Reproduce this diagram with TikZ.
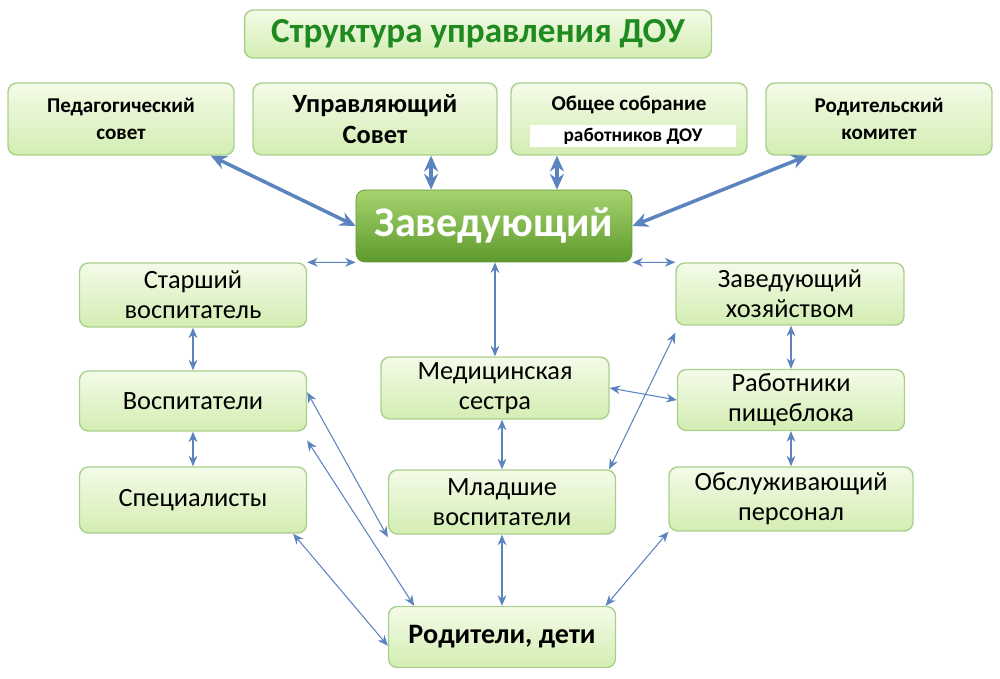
\documentclass[tikz,border=0pt]{standalone}
\usepackage{fontspec}
\setmainfont{Carlito}
\usetikzlibrary{arrows.meta,positioning}
\definecolor{boxline}{HTML}{A9CF8C}
\definecolor{boxtop}{HTML}{F4FBE8}
\definecolor{boxbot}{HTML}{D3EDB2}
\definecolor{headtop}{HTML}{A6D36E}
\definecolor{headbot}{HTML}{5E9A2E}
\definecolor{arrowblue}{HTML}{5B84BE}
\definecolor{titlegreen}{HTML}{1F8A1F}
\tikzset{
  box/.style={draw=boxline, line width=0.8pt, rounded corners=5pt, top color=boxtop, bottom color=boxbot,
    align=center, inner sep=0pt, font=\fontsize{15}{17}\selectfont},
  topbox/.style={box, font=\fontsize{12}{15}\selectfont\bfseries},
  link/.style={{Stealth[length=6pt,width=5pt]}-{Stealth[length=6pt,width=5pt]}, draw=arrowblue, line width=0.6pt},
  biglink/.style={{Stealth[length=9pt,width=8pt]}-{Stealth[length=9pt,width=8pt]}, draw=arrowblue, line width=2pt}
}
\newcommand{\bx}[7]{\node[#1, minimum width=#4cm, minimum height=#5cm] (#2) at (#3) {#7};}
\begin{document}
\begin{tikzpicture}[x=0.02cm,y=-0.02cm]
\useasboundingbox (0,0) rectangle (1000,679);
% title and council row
\node[box, minimum width=9.34cm, minimum height=0.96cm, font=\fontsize{20}{22}\selectfont\bfseries\color{titlegreen}] (title) at (478,34) {Структура управления ДОУ};
\node[topbox, minimum width=4.52cm, minimum height=1.44cm] (ped) at (121,119) {Педагогический\\совет};
\node[topbox, minimum width=4.88cm, minimum height=1.44cm, font=\fontsize{15}{18}\selectfont\bfseries] (upr) at (375,119) {Управляющий\\Совет};
\node[topbox, minimum width=4.72cm, minimum height=1.44cm] (obs) at (629,119) {};
\node[font=\fontsize{12}{14}\selectfont\bfseries] at (629,105) {Общее собрание};
\node[fill=white, minimum width=4.14cm, minimum height=0.44cm, inner sep=0pt, font=\fontsize{11}{13}\selectfont\bfseries] (obs2) at (633,136) {работников ДОУ};
\node[topbox, minimum width=4.52cm, minimum height=1.44cm] (rod) at (879,119) {Родительский\\комитет};
% head
\node[draw=headbot, rounded corners=5pt, top color=headtop, bottom color=headbot, text=white,
  font=\fontsize{24}{28}\selectfont\bfseries, minimum width=5.52cm, minimum height=1.44cm] (head) at (494,226) {Заведующий};
% staff
\node[box, minimum width=4.54cm, minimum height=1.28cm] (star) at (193,295) {Старший\\воспитатель};
\node[box, minimum width=4.56cm, minimum height=1.24cm] (hoz) at (790,294) {Заведующий\\хозяйством};
\node[box, minimum width=4.54cm, minimum height=1.2cm] (vos) at (193,401) {Воспитатели};
\node[box, minimum width=4.56cm, minimum height=1.24cm] (med) at (495,388) {Медицинская\\сестра};
\node[box, minimum width=4.54cm, minimum height=1.22cm] (pish) at (791,400) {Работники\\пищеблока};
\node[box, minimum width=4.54cm, minimum height=1.32cm] (spec) at (193,500) {Специалисты};
\node[box, minimum width=4.54cm, minimum height=1.28cm] (mlad) at (502,502) {Младшие\\воспитатели};
\node[box, minimum width=4.88cm, minimum height=1.28cm] (obsl) at (791,499) {Обслуживающий\\персонал};
\node[box, minimum width=4.54cm, minimum height=1.22cm, font=\fontsize{16}{18}\selectfont\bfseries] (par) at (502,637) {Родители, дети};
% thick links
\draw[biglink] (ped.south east) ++(-24,0) coordinate (p1) (p1) -- (head.west);
\draw[biglink] (upr.south -| head.150) -- (head.150);
\draw[biglink] (obs.south -| head.30) -- (head.30);
\draw[biglink] ([xshift=24]rod.south west) -- (head.east);
% thin links
\draw[link] (head.south west) -- (star.north east);
\draw[link] (head.south east) -- (hoz.north west);
\draw[link] (head.south -| med.north) -- (med.north);
\draw[link] (star) -- (vos);
\draw[link] (vos) -- (spec);
\draw[link] ([yshift=5]vos.east) -- ([yshift=-20]mlad.west);
\draw[link] ([yshift=-5]vos.south east) -- ([xshift=15]par.north west);
\draw[link] ([xshift=-8]spec.south east) -- ([yshift=-5]par.west);
\draw[link] (med.south -| mlad.north) -- (mlad.north);
\draw[link] (mlad) -- (par);
\draw[link] (med.east) -- (pish.west);
\draw[link] ([yshift=-4]hoz.south west) -- ([xshift=-4]mlad.north east);
\draw[link] (hoz.south -| pish.north) -- (pish.north);
\draw[link] (pish.south -| obsl.north) -- (obsl.north);
\draw[link] (obsl.south west) -- ([xshift=-6]par.north east);
\end{tikzpicture}
\end{document}
